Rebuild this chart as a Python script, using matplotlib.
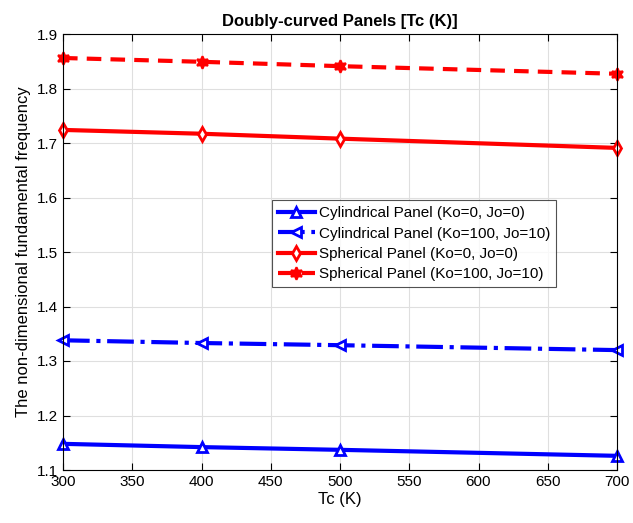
import matplotlib
matplotlib.use("Agg")
import matplotlib.pyplot as plt

plt.rcParams['font.family'] = ['Liberation Sans', 'DejaVu Sans']

tc = [300, 400, 500, 700]
cyl_k0 = [1.148, 1.142, 1.137, 1.126]
cyl_k100 = [1.338, 1.333, 1.329, 1.320]
sph_k0 = [1.724, 1.717, 1.708, 1.691]
sph_k100 = [1.856, 1.849, 1.841, 1.827]

labels = ["Cylindrical Panel (Ko=0, Jo=0)",
          "Cylindrical Panel (Ko=100, Jo=10)",
          "Spherical Panel (Ko=0, Jo=0)",
          "Spherical Panel (Ko=100, Jo=10)"]

L, R, T, B = 63, 617, 34, 470
fig = plt.figure(figsize=(6.33, 5.23), dpi=100)
ax = fig.add_axes([L/633, 1-B/523, (R-L)/633, (B-T)/523])

mk = dict(markersize=7, markeredgewidth=2, markerfacecolor='white', clip_on=False)
ax.plot(tc, cyl_k0, color='#0000ff', linestyle='-', linewidth=3, marker='^', label=labels[0], **mk)
ax.plot(tc, cyl_k100, color='#0000ff', linestyle='-.', linewidth=3, marker='<', label=labels[1], **mk)
ax.plot(tc, sph_k0, color='#ff0000', linestyle='-', linewidth=3, marker='d', label=labels[2], **mk)
ax.plot(tc, sph_k100, color='#ff0000', linestyle=(0, (3.5, 2.2)), linewidth=3, marker=(6, 1, 0),
        label=labels[3], markersize=9, markeredgewidth=1.5, markerfacecolor='#ff0000', clip_on=False)

ax.set_xlim(300, 700)
ax.set_ylim(1.1, 1.9)
ax.set_xticks(range(300, 701, 50))
ax.set_yticks([1.1, 1.2, 1.3, 1.4, 1.5, 1.6, 1.7, 1.8, 1.9])
ax.set_yticklabels(['1.1', '1.2', '1.3', '1.4', '1.5', '1.6', '1.7', '1.8', '1.9'])
ax.grid(True, color='#dfdfdf', linewidth=0.8)
ax.set_axisbelow(True)
ax.tick_params(direction='in', top=True, right=True, labelsize=11, length=5, width=0.8)
for s in ax.spines.values():
    s.set_linewidth(0.8)
ax.set_xlabel('Tc (K)', fontsize=12, labelpad=2)
ax.set_ylabel('The non-dimensional fundamental frequency', fontsize=12, labelpad=4)
ax.set_title('Doubly-curved Panels [Tc (K)]', fontsize=12, fontweight='bold', pad=6)

leg = ax.legend(loc='upper left', bbox_to_anchor=((272-L)/(R-L), (B-200)/(B-T)),
                fontsize=11, frameon=True, fancybox=False, edgecolor='#262626',
                handlelength=2.4, borderpad=0.4, labelspacing=0.42, handletextpad=0.25,
                borderaxespad=0)
leg.get_frame().set_linewidth(0.8)

fig.savefig('out.png', dpi=100)
